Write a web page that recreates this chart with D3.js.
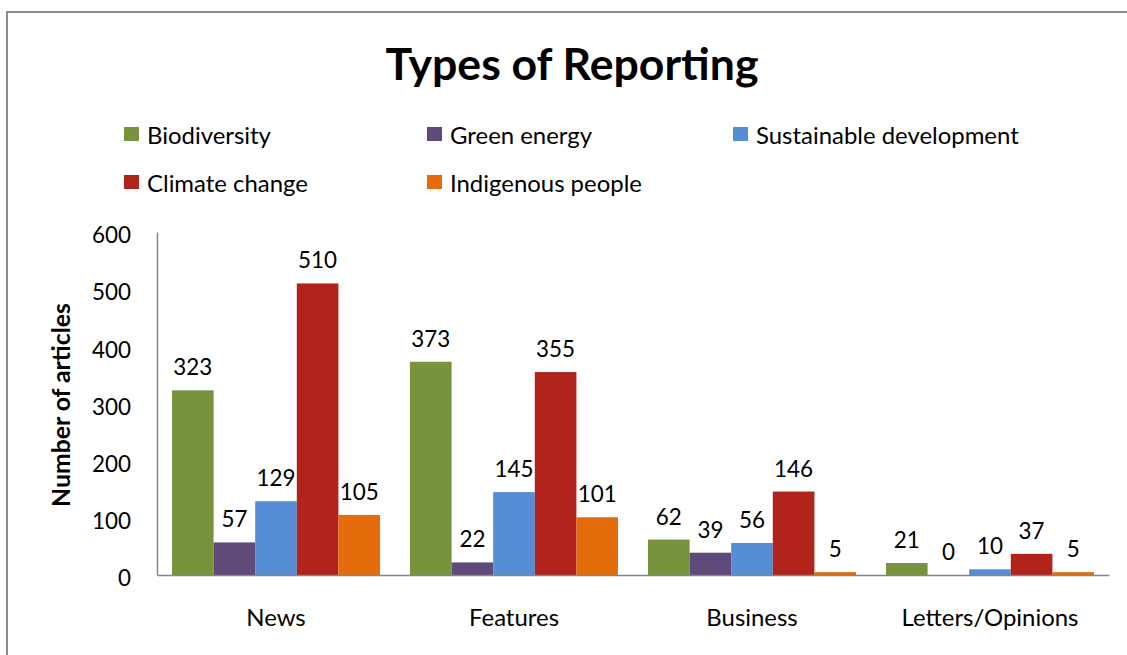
<!DOCTYPE html>
<html><head><meta charset="utf-8">
<script src="https://cdn.jsdelivr.net/npm/d3@7/dist/d3.min.js"></script>
<style>
html,body{margin:0;padding:0;background:#fff;}
svg{display:block;}
text{font-family:Lato,"Open Sans",sans-serif;fill:#000;}
</style></head>
<body>
<svg id="chart" width="1127" height="655"></svg>
<script>
const categories = ["News", "Features", "Business", "Letters/Opinions"];
const seriesNames = ["Biodiversity", "Green energy", "Sustainable development", "Climate change", "Indigenous people"];
const biodiversity = [323, 373, 62, 21];
const greenEnergy = [57, 22, 39, 0];
const sustainableDevelopment = [129, 145, 56, 10];
const climateChange = [510, 355, 146, 37];
const indigenousPeople = [105, 101, 5, 5];
const seriesColors = ["#77933C", "#604A7B", "#558ED5", "#B0241C", "#E46C0A"];
const yTicks = [0, 100, 200, 300, 400, 500, 600];
const titleText = "Types of Reporting";
const yTitle = "Number of articles";

const seriesValues = [biodiversity, greenEnergy, sustainableDevelopment, climateChange, indigenousPeople];

const svg = d3.select("#chart");

function fitSize(text, weight, targetW, base) {
  const t = svg.append("text").attr("font-size", base).attr("font-weight", weight).text(text);
  const w = t.node().getComputedTextLength();
  t.remove();
  return base * targetW / w;
}
const regSize = fitSize("Biodiversity", "normal", 124, 22);
const numSize = fitSize("323", "normal", 39, 22);
const titleSize = fitSize(titleText, "bold", 373, 40);
const yTitleSize = fitSize(yTitle, "bold", 204, 20);

// border
svg.append("rect").attr("x", 7).attr("y", 12).attr("width", 1140).attr("height", 660)
  .attr("fill", "none").attr("stroke", "#8c8c8c").attr("stroke-width", 2);

// title
svg.append("text").attr("x", 572).attr("y", 62).attr("text-anchor", "middle")
  .attr("dominant-baseline", "central").attr("font-weight", "bold")
  .attr("font-size", titleSize).text(titleText);

// legend
const legendPos = [[124, 134], [427, 134], [733, 134], [124, 182], [427, 182]];
seriesNames.forEach((name, i) => {
  const [lx, ly] = legendPos[i];
  svg.append("rect").attr("x", lx).attr("y", ly - 7).attr("width", 15).attr("height", 14)
    .attr("fill", seriesColors[i]);
  svg.append("text").attr("x", lx + 23).attr("y", ly).attr("dominant-baseline", "central")
    .attr("font-size", regSize).text(name);
});

// scales
const plotLeft = 157, plotRight = 1109, plotTop = 232, plotBottom = 575;
const y = d3.scaleLinear().domain([0, 600]).range([plotBottom, plotTop]);
const x0 = d3.scaleBand().domain(categories).range([plotLeft, plotRight]).padding(0);
const x1 = d3.scaleBand().domain(seriesNames).range([0, x0.bandwidth()]).paddingInner(0).paddingOuter(0.36);

// bars
categories.forEach((cat, ci) => {
  const g = svg.append("g").attr("transform", `translate(${x0(cat)},0)`);
  seriesNames.forEach((s, si) => {
    const v = seriesValues[si][ci];
    g.append("rect").attr("x", x1(s)).attr("y", y(v)).attr("width", x1.bandwidth())
      .attr("height", y(0) - y(v)).attr("fill", seriesColors[si]);
    g.append("text").attr("x", x1(s) + x1.bandwidth() / 2).attr("y", y(v) - 15)
      .attr("text-anchor", "middle").attr("font-size", numSize).text(v);
  });
});

// y axis
const yAxis = d3.axisLeft(y).tickValues(yTicks).tickSize(0).tickPadding(26);
const yg = svg.append("g").attr("transform", `translate(${plotLeft},0)`).call(yAxis);
yg.select(".domain").attr("stroke", "#868686").attr("stroke-width", 1.5);
yg.selectAll("text").attr("font-size", numSize).attr("font-family", null).attr("fill", "#000").attr("dy", "0.48em");

// x axis
const xAxis = d3.axisBottom(x0).tickSize(0).tickPadding(34);
const xg = svg.append("g").attr("transform", `translate(0,${plotBottom})`).call(xAxis);
xg.select(".domain").attr("stroke", "#868686").attr("stroke-width", 1.5);
xg.selectAll("text").attr("font-size", regSize).attr("font-family", null).attr("fill", "#000");

// y title
svg.append("text").attr("transform", "translate(60,405) rotate(-90)")
  .attr("text-anchor", "middle").attr("dominant-baseline", "central")
  .attr("font-weight", "bold").attr("font-size", yTitleSize).text(yTitle);
</script>
</body></html>
